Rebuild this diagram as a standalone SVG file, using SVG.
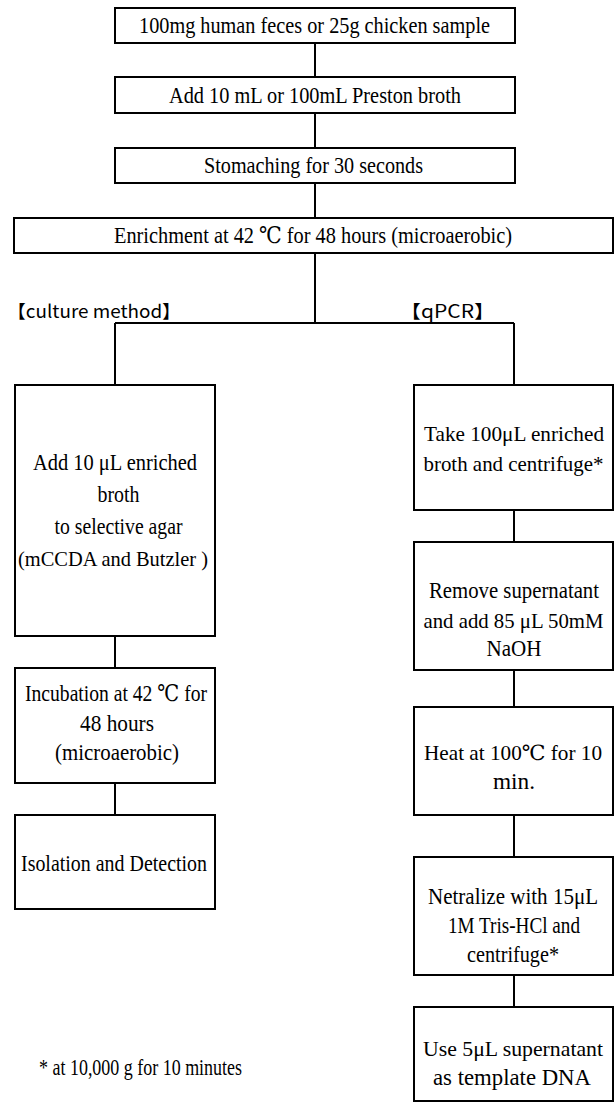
<svg xmlns="http://www.w3.org/2000/svg" width="616" height="1104" viewBox="0 0 616 1104">
<style>
.box{fill:#fff;stroke:#000;stroke-width:2}
.ln{stroke:#000;stroke-width:2;fill:none}
.t{font-family:"Liberation Serif","DejaVu Serif","Noto Sans CJK JP",serif;font-size:23px;fill:#000;text-anchor:middle}
.s{font-size:21px}
.lb{font-family:"Noto Sans CJK JP","Noto Sans",sans-serif;font-size:18px;fill:#000}
</style>
<rect width="616" height="1104" fill="#fff"/>
<g id="connectors">
<path class="ln" d="M315 43V77M315 113V148M315 183V218M315 253V323M115 323H514M115 323V385M514 323V385M115 636V668M115 783V815M514 510V542M514 670V707M514 815V857M514 975V1007"/>
</g>
<g id="n1"><rect class="box" x="115" y="8" width="400" height="35"/><text class="t" x="314.5" y="33" textLength="351" lengthAdjust="spacingAndGlyphs">100mg human feces or 25g chicken sample</text></g>
<g id="n2"><rect class="box" x="115" y="77" width="400" height="36"/><text class="t" x="315" y="103" textLength="292" lengthAdjust="spacingAndGlyphs">Add 10 mL or 100mL Preston broth</text></g>
<g id="n3"><rect class="box" x="115" y="148" width="400" height="35"/><text class="t" x="313.5" y="173" textLength="219" lengthAdjust="spacingAndGlyphs">Stomaching for 30 seconds</text></g>
<g id="n4"><rect class="box" x="14" y="218" width="599" height="35"/><text class="t" x="313" y="243" textLength="398" lengthAdjust="spacingAndGlyphs">Enrichment at 42 ℃ for 48 hours (microaerobic)</text></g>
<g id="lbl-culture"><text class="lb" x="7" y="318" textLength="174" lengthAdjust="spacingAndGlyphs">【culture method】</text></g>
<g id="lbl-qpcr"><text class="lb" x="400" y="318" textLength="95" lengthAdjust="spacingAndGlyphs">【qPCR】</text></g>
<g id="c1"><rect class="box" x="15" y="385" width="200" height="251"/>
<text class="t" x="115" y="470" textLength="164" lengthAdjust="spacingAndGlyphs">Add 10 μL enriched</text>
<text class="t" x="118.5" y="502" textLength="42" lengthAdjust="spacingAndGlyphs">broth</text>
<text class="t" x="118.5" y="534" textLength="128" lengthAdjust="spacingAndGlyphs">to selective agar</text>
<text class="t s" x="113" y="566" textLength="190" lengthAdjust="spacingAndGlyphs">(mCCDA and Butzler )</text></g>
<g id="c2"><rect class="box" x="15" y="668" width="200" height="115"/>
<text class="t" x="116" y="701" textLength="182" lengthAdjust="spacingAndGlyphs">Incubation at 42 ℃ for</text>
<text class="t" x="117" y="731" textLength="74" lengthAdjust="spacingAndGlyphs">48 hours</text>
<text class="t" x="117" y="760" textLength="124" lengthAdjust="spacingAndGlyphs">(microaerobic)</text></g>
<g id="c3"><rect class="box" x="15" y="815" width="200" height="94"/>
<text class="t" x="114" y="871" textLength="186" lengthAdjust="spacingAndGlyphs">Isolation and Detection</text></g>
<g id="q1"><rect class="box" x="414" y="385" width="199" height="125"/>
<text class="t s" x="514" y="441" textLength="180" lengthAdjust="spacingAndGlyphs">Take 100μL enriched</text>
<text class="t s" x="513.5" y="471" textLength="180" lengthAdjust="spacingAndGlyphs">broth and centrifuge*</text></g>
<g id="q2"><rect class="box" x="414" y="542" width="199" height="128"/>
<text class="t" x="514" y="598" textLength="170" lengthAdjust="spacingAndGlyphs">Remove supernatant</text>
<text class="t s" x="513.5" y="628" textLength="180" lengthAdjust="spacingAndGlyphs">and add 85 μL 50mM</text>
<text class="t" x="514" y="656" textLength="55" lengthAdjust="spacingAndGlyphs">NaOH</text></g>
<g id="q3"><rect class="box" x="414" y="707" width="199" height="108"/>
<text class="t s" x="513" y="760" textLength="178" lengthAdjust="spacingAndGlyphs">Heat at 100℃ for 10</text>
<text class="t" x="514" y="789" textLength="42" lengthAdjust="spacingAndGlyphs">min.</text></g>
<g id="q4"><rect class="box" x="414" y="857" width="199" height="118"/>
<text class="t" x="513" y="904" textLength="170" lengthAdjust="spacingAndGlyphs">Netralize with 15μL</text>
<text class="t" x="514" y="933" textLength="132" lengthAdjust="spacingAndGlyphs">1M Tris-HCl and</text>
<text class="t" x="513" y="962" textLength="92" lengthAdjust="spacingAndGlyphs">centrifuge*</text></g>
<g id="q5"><rect class="box" x="414" y="1007" width="199" height="94"/>
<text class="t s" x="513" y="1056" textLength="180" lengthAdjust="spacingAndGlyphs">Use 5μL supernatant</text>
<text class="t" x="512" y="1085" textLength="158" lengthAdjust="spacingAndGlyphs">as template DNA</text></g>
<g id="footnote"><text class="t" x="39" y="1075" textLength="203" lengthAdjust="spacingAndGlyphs" style="text-anchor:start">* at 10,000 g for 10 minutes</text></g>
</svg>
